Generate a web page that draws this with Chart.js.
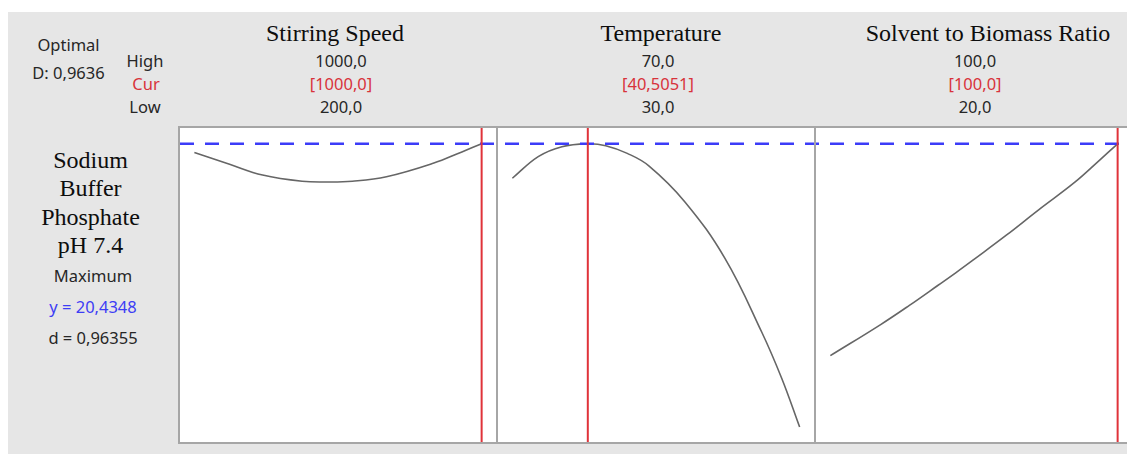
<!DOCTYPE html>
<html>
<head>
<meta charset="utf-8">
<script src="https://cdn.jsdelivr.net/npm/chart.js@4.4.1/dist/chart.umd.min.js"></script>
<style>
html,body{margin:0;padding:0;width:1127px;height:454px;overflow:hidden;background:#fff}
#frame{position:absolute;left:8px;top:12px;right:0;bottom:0;background:#e6e6e6}
.t{position:absolute;transform:translate(-50%,-50%);white-space:nowrap;line-height:1}
.sans{font-family:"Noto Sans",sans-serif;font-size:16.5px;color:#262626}
.serif{font-family:"Liberation Serif",serif;font-size:24px;color:#0d0d0d}
.cur{color:#d8333b}
.blue{color:#3d3df5}
.panel{position:absolute;top:126px;width:320px;height:318px;box-sizing:border-box;border:2px solid #a6a6a6;background:#fff}
canvas{display:block}
</style>
</head>
<body>
<div id="frame"></div>
<div id="labels"></div>
<div class="panel" style="left:178px"><canvas id="p0" width="316" height="314"></canvas></div>
<div class="panel" style="left:496px"><canvas id="p1" width="316" height="314"></canvas></div>
<div class="panel" style="left:814px"><canvas id="p2" width="316" height="314"></canvas></div>
<script>
// factor settings
const factors = ['Stirring Speed', 'Temperature', 'Solvent to Biomass Ratio'];
const highs = [1000, 70, 100];
const lows = [200, 30, 20];
const currents = [1000, 40.5051, 100];
const decimals = [1, 4, 1];

// response: Sodium Buffer Phosphate pH 7.4
const responseName = ['Sodium', 'Buffer', 'Phosphate', 'pH 7.4'];
const goal = 'Maximum';
const yOpt = 20.4348;
const dOpt = 0.96355;
const compositeD = 0.9636;

// predicted response along each factor (others held at current setting)
const stirX = [200, 300, 390, 500, 570, 640, 735, 865, 945, 1000];
const stirY = [20.09, 19.60, 19.18, 18.93, 18.90, 18.93, 19.11, 19.65, 20.11, 20.4348];
const tempX = [30, 33.6, 36.9, 40.5051, 43, 46, 49, 54, 59.6, 64.7, 67.5, 70];
const tempY = [19.05, 19.92, 20.32, 20.4348, 20.36, 20.05, 19.55, 18.11, 15.83, 12.88, 11.01, 9.05];
const solvX = [20, 34, 42, 50, 55, 60, 69, 78, 88, 95, 100];
const solvY = [11.92, 13.17, 13.94, 14.75, 15.26, 15.79, 16.76, 17.78, 18.88, 19.78, 20.4348];

const yLow = 8.45, yHigh = 21.07;
const fmt = (v, d) => v.toFixed(d).replace('.', ',');

const labels = document.getElementById('labels');
function text(str, x, y, cls){
  const el = document.createElement('div');
  el.className = 't ' + cls;
  el.style.left = x + 'px';
  el.style.top = y + 'px';
  el.textContent = str;
  labels.appendChild(el);
}

text('Optimal', 68.5, 45, 'sans');
text('D: ' + fmt(compositeD, 4), 68.5, 72.5, 'sans');
text('High', 145, 61, 'sans');
text('Cur', 146, 84, 'sans cur');
text('Low', 145, 107, 'sans');

const titleX = [335, 661, 988];
const valueX = [341, 658, 975];
factors.forEach((f, i) => {
  text(f, titleX[i], 32.5, 'serif');
  text(fmt(highs[i], 1), valueX[i], 61, 'sans');
  text('[' + fmt(currents[i], decimals[i]) + ']', valueX[i], 84, 'sans cur');
  text(fmt(lows[i], 1), valueX[i], 107, 'sans');
});

responseName.forEach((s, i) => text(s, 90.5, 159.5 + i * 28.5, 'serif'));
text(goal, 93, 275.5, 'sans');
text('y = ' + fmt(yOpt, 4), 93, 306.5, 'sans blue');
text('d = ' + fmt(dOpt, 5), 93, 337.5, 'sans');

function panel(id, xMin, xMax, xs, ys, cur, dashOffset){
  new Chart(document.getElementById(id), {
    type: 'line',
    data: { datasets: [
      { data: [{x: cur, y: yLow}, {x: cur, y: yHigh}], borderColor: '#e0333a', borderWidth: 2, pointRadius: 0 },
      { data: [{x: xMin, y: yOpt}, {x: xMax, y: yOpt}], borderColor: '#3c3cf8', borderWidth: 2.5,
        borderDash: [14, 11], borderDashOffset: dashOffset, pointRadius: 0 },
      { data: xs.map((x, i) => ({x, y: ys[i]})), borderColor: '#666', borderWidth: 1.6,
        pointRadius: 0, tension: 0.4 }
    ]},
    options: {
      responsive: false, animation: false, events: [],
      layout: { padding: 0 },
      plugins: { legend: { display: false }, tooltip: { enabled: false } },
      scales: {
        x: { type: 'linear', min: xMin, max: xMax, display: false },
        y: { min: yLow, max: yHigh, display: false }
      }
    }
  });
}

// x ranges padded 5% beyond low/high
panel('p0', 160, 1040, stirX, stirY, currents[0], 0);
panel('p1', 28, 72, tempX, tempY, currents[1], 318 % 25);
panel('p2', 16, 104, solvX, solvY, currents[2], 636 % 25);
</script>
</body>
</html>
